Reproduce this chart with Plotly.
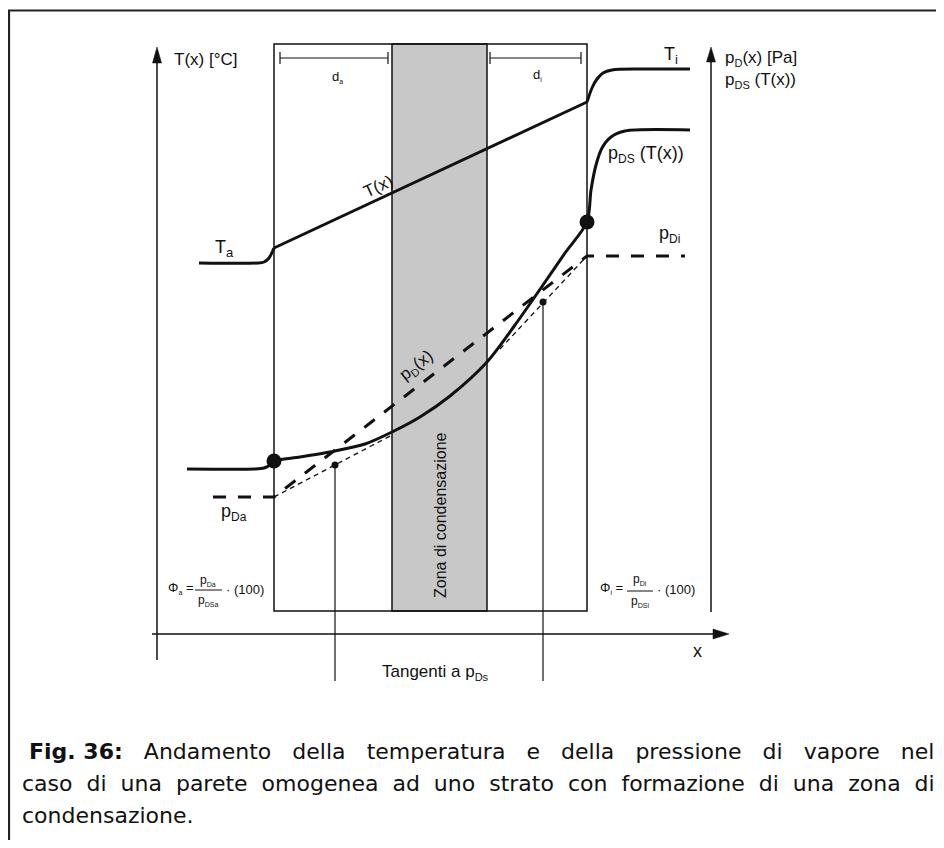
import plotly.graph_objects as go

# page body has an 8px margin: map data coordinates 1:1 onto page pixels
OFF = 8
W, H = 944, 848

# ---- data (drawing units = reference pixels) ----
# temperature profile T(x): outside air, wall (linear), inside air
t_out_x = [199, 258, 264, 269, 274]
t_out_y = [263, 263, 262, 258, 248]
t_wall_x = [274, 587]
t_wall_y = [248, 102]
t_in_x = [587, 592, 597, 603, 612, 640, 690]
t_in_y = [102, 88, 79, 73, 70, 69, 69]
# saturation pressure p_DS(T(x))
pds_x = [187, 255, 264, 270, 274, 300, 335, 365, 392, 420, 450, 487, 515, 543, 565, 587, 591, 596, 602, 611, 625, 690]
pds_y = [469, 469, 468, 465, 461, 457, 451, 444, 432, 417, 396, 362, 325, 285, 253, 222, 190, 165, 148, 137, 131, 130]
# vapour pressure p_D(x)
pd_x = [213, 274, 587, 685]
pd_y = [497, 497, 256, 256]
# tangents to p_DS
tan_a_x = [274, 392]
tan_a_y = [497, 435]
tan_i_x = [500, 587]
tan_i_y = [349, 256]
# tangent points and surface points
tp_x = [335, 543]
tp_y = [465, 302]
sp_x = [274, 587]
sp_y = [461, 222]
# wall and condensation zone
wall_x = [274, 587]
zone_x = [392, 487]
wall_y = [44, 611]
# axes
left_axis_x = 157
right_axis_x = 711
x_axis_y = 634

fig = go.Figure()
BLACK = "#111111"

def line_trace(x, y, width=3, dash="solid", shape="linear", smoothing=1.0):
    line = dict(color=BLACK, width=width, dash=dash, shape=shape)
    if shape == "spline":
        line["smoothing"] = smoothing
    fig.add_trace(go.Scatter(x=x, y=y, mode="lines", line=line, hoverinfo="skip", showlegend=False))

shapes = []
# outer frame
shapes.append(dict(type="rect", x0=9, y0=10.5, x1=980, y1=900, line=dict(color="#222", width=2.2)))
# condensation zone
shapes.append(dict(type="rect", x0=zone_x[0], x1=zone_x[1], y0=wall_y[0], y1=wall_y[1],
                   fillcolor="#c8c8c8", line=dict(color=BLACK, width=1.5), layer="below"))
# wall
shapes.append(dict(type="rect", x0=wall_x[0], x1=wall_x[1], y0=wall_y[0], y1=wall_y[1],
                   line=dict(color=BLACK, width=1.5), layer="below"))
# axes lines
shapes.append(dict(type="line", x0=left_axis_x, x1=left_axis_x, y0=56, y1=660, line=dict(color=BLACK, width=1.5)))
shapes.append(dict(type="line", x0=right_axis_x, x1=right_axis_x, y0=56, y1=612, line=dict(color=BLACK, width=1.5)))
shapes.append(dict(type="line", x0=152, x1=716, y0=x_axis_y, y1=x_axis_y, line=dict(color=BLACK, width=1.5)))
# arrow heads
shapes.append(dict(type="path", path=f"M {left_axis_x-4.5} 63 L {left_axis_x} 47 L {left_axis_x+4.5} 63 Z",
                   fillcolor=BLACK, line=dict(color=BLACK, width=0.5)))
shapes.append(dict(type="path", path=f"M {right_axis_x-4.5} 62 L {right_axis_x} 47 L {right_axis_x+4.5} 62 Z",
                   fillcolor=BLACK, line=dict(color=BLACK, width=0.5)))
shapes.append(dict(type="path", path=f"M 713 {x_axis_y-5} L 729 {x_axis_y} L 713 {x_axis_y+5} Z",
                   fillcolor=BLACK, line=dict(color=BLACK, width=0.5)))
# dimension bars d_a, d_i
for (a, b) in [(280, 388), (490, 581)]:
    shapes.append(dict(type="line", x0=a, x1=b, y0=58, y1=58, line=dict(color=BLACK, width=1.2)))
    shapes.append(dict(type="line", x0=a, x1=a, y0=52, y1=64, line=dict(color=BLACK, width=1.2)))
    shapes.append(dict(type="line", x0=b, x1=b, y0=52, y1=64, line=dict(color=BLACK, width=1.2)))
# tangent verticals
for i in range(2):
    shapes.append(dict(type="line", x0=tp_x[i], x1=tp_x[i], y0=tp_y[i], y1=681, line=dict(color=BLACK, width=1.2)))
# fraction bars
shapes.append(dict(type="line", x0=195, x1=222, y0=590, y1=590, line=dict(color=BLACK, width=1)))
shapes.append(dict(type="line", x0=627, x1=653, y0=591, y1=591, line=dict(color=BLACK, width=1)))

# curves
line_trace(t_out_x, t_out_y, width=3, shape="spline", smoothing=0.8)
line_trace(t_wall_x, t_wall_y, width=3)
line_trace(t_in_x, t_in_y, width=3, shape="spline", smoothing=0.8)
line_trace(pds_x, pds_y, width=3, shape="spline", smoothing=0.8)
line_trace(pd_x, pd_y, width=3, dash="13px,12px")
line_trace(tan_a_x, tan_a_y, width=1.3, dash="5px,4px")
line_trace(tan_i_x, tan_i_y, width=1.3, dash="5px,4px")
fig.add_trace(go.Scatter(x=sp_x, y=sp_y, mode="markers", marker=dict(size=15, color=BLACK), hoverinfo="skip", showlegend=False))
fig.add_trace(go.Scatter(x=tp_x, y=tp_y, mode="markers", marker=dict(size=7, color=BLACK), hoverinfo="skip", showlegend=False))

LAB = "Liberation Sans, Arial, sans-serif"
ann = []
def txt(x, y, text, size=16, xanchor="center", yanchor="middle", angle=0, font=LAB, color=BLACK):
    ann.append(dict(x=x, y=y, text=text, showarrow=False, xanchor=xanchor, yanchor=yanchor,
                    textangle=angle, font=dict(family=font, size=size, color=color)))

def sub(s, size=9):
    return f"<sub><span style='font-size:{size}px'>{s}</span></sub>"

txt(172, 59, "T(x) [°C]", size=17, xanchor="left")
txt(723, 58, "p" + sub("D", 11) + "(x) [Pa]", size=17, xanchor="left")
txt(723, 80, "p" + sub("DS", 11) + " (T(x))", size=17, xanchor="left")
txt(337, 77, "d" + sub("a", 7), size=13)
txt(537, 75, "d" + sub("i", 7), size=13)
txt(213, 248, "T" + sub("a", 13), size=18, xanchor="left")
txt(662, 55, "T" + sub("i", 13), size=18, xanchor="left")
txt(219, 512, "p" + sub("Da", 12), size=18, xanchor="left")
txt(657, 234, "p" + sub("Di", 12), size=18, xanchor="left")
txt(606, 154, "p" + sub("DS", 12) + " (T(x))", size=18, xanchor="left")
txt(378, 186, "T(x)", size=17, angle=-25)
txt(416, 366, "p" + sub("D", 11) + "(x)", size=17, angle=-38)
txt(440, 515, "Zona di condensazione", size=16, angle=-90)
txt(697, 651, "x", size=18)
txt(380, 672, "Tangenti a p" + sub("Ds", 11), size=17, xanchor="left")
# formulas
txt(166, 588, "Φ" + sub("a", 7) + " =", size=13, xanchor="left")
txt(208, 580, "p" + sub("Da", 7), size=12)
txt(208, 600, "p" + sub("DSa", 7), size=12)
txt(224, 589, "· (100)", size=13, xanchor="left")
txt(598, 588, "Φ" + sub("i", 7) + " =", size=13, xanchor="left")
txt(640, 579, "p" + sub("Di", 7), size=12)
txt(640, 601, "p" + sub("DSi", 7), size=12)
txt(655, 589, "· (100)", size=13, xanchor="left")

# caption (justified through word spacing)
CAP = "DejaVu Sans, Verdana, sans-serif"
cap_lines = [
    ("<b>Fig. 36:</b>", " Andamento della temperatura e della pressione di vapore nel"),
    ("", "caso di una parete omogenea ad uno strato con formazione di una zona di"),
    ("", "condensazione."),
]
cap_y = [751, 783, 815]
cap_x = [27, 20, 20]
cap_ws = [14.1, 7, 0]
for (head, body), x, y, ws in zip(cap_lines, cap_x, cap_y, cap_ws):
    txt(x, y, f"{head}<span style='word-spacing:{ws}px'>{body}</span>", size=22,
        xanchor="left", font=CAP, color="#111")

fig.update_layout(
    width=W - 2 * OFF, height=H - 2 * OFF, margin=dict(l=0, r=0, t=0, b=0),
    paper_bgcolor="white", plot_bgcolor="white",
    xaxis=dict(range=[OFF, W - OFF], visible=False, fixedrange=True),
    yaxis=dict(range=[H - OFF, OFF], visible=False, fixedrange=True),
    shapes=shapes, annotations=ann, showlegend=False,
)
fig.write_html("out.html")
